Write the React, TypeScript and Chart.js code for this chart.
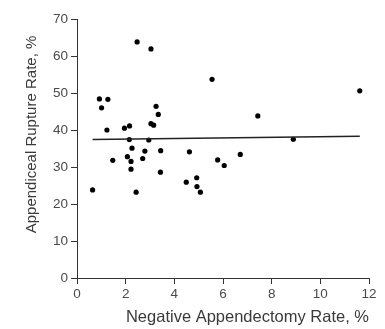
import React, { useEffect, useRef } from "react";
import { Chart, registerables } from "chart.js";

Chart.register(...registerables);

const negativeRate = [
  0.64, 0.92, 1.01, 1.23, 1.27, 1.47, 1.95, 2.07, 2.15, 2.16, 2.22, 2.22, 2.26,
  2.43, 2.47, 2.7, 2.79, 2.95, 3.04, 3.04, 3.15, 3.25, 3.34, 3.43, 3.44, 4.49,
  4.62, 4.92, 4.93, 5.07, 5.55, 5.78, 6.05, 6.71, 7.43, 8.89, 11.62,
];
const ruptureRate = [
  23.8, 48.4, 46.0, 40.0, 48.3, 31.8, 40.5, 32.8, 37.4, 41.1, 31.5, 29.4, 35.1,
  23.2, 63.8, 32.3, 34.3, 37.3, 61.9, 41.7, 41.3, 46.4, 44.2, 28.6, 34.4, 25.9,
  34.1, 27.1, 24.7, 23.2, 53.7, 31.9, 30.4, 33.4, 43.8, 37.5, 50.6,
];
const fitX = [0.64, 11.62];
const fitY = [37.4, 38.3];

const xTitle = "Negative Appendectomy Rate, %";
const yTitle = "Appendiceal Rupture Rate, %";

const FONT = "'Liberation Sans', Arial, sans-serif";

const yTitlePlugin = {
  id: "yTitlePlugin",
  afterDraw(chart: any) {
    const ctx = chart.ctx;
    const area = chart.chartArea;
    ctx.save();
    ctx.translate(32, (area.top + area.bottom) / 2 - 14);
    ctx.rotate(-Math.PI / 2);
    ctx.font = `15px ${FONT}`;
    ctx.fillStyle = "#3a3a3a";
    ctx.textAlign = "center";
    ctx.textBaseline = "middle";
    ctx.fillText(yTitle, 0, 0);
    ctx.restore();
  },
};

export default function App() {
  const ref = useRef<HTMLCanvasElement | null>(null);

  useEffect(() => {
    if (!ref.current) return;
    const points = negativeRate.map((x, i) => ({ x, y: ruptureRate[i] }));
    const fit = fitX.map((x, i) => ({ x, y: fitY[i] }));
    const tickFont = { family: FONT, size: 13.5 };
    const chart = new Chart(ref.current, {
      type: "scatter",
      data: {
        datasets: [
          {
            type: "line",
            data: fit,
            borderColor: "#222",
            borderWidth: 1.5,
            pointRadius: 0,
            fill: false,
          } as any,
          {
            type: "scatter",
            data: points,
            backgroundColor: "#000",
            borderWidth: 0,
            pointRadius: 2.6,
          },
        ],
      },
      plugins: [yTitlePlugin],
      options: {
        responsive: false,
        animation: false,
        layout: { padding: { top: 19, right: 16, left: 0, bottom: 0 } },
        plugins: { legend: { display: false }, tooltip: { enabled: false } },
        scales: {
          x: {
            type: "linear",
            min: 0,
            max: 12,
            afterFit: (s: any) => {
              s.height = 51;
            },
            ticks: { stepSize: 2, color: "#4a4a4a", font: tickFont, padding: 2 },
            grid: {
              display: true,
              drawOnChartArea: false,
              drawTicks: true,
              tickLength: 6,
              color: "#333",
            },
            border: { display: true, color: "#333", width: 1 },
            title: {
              display: true,
              text: xTitle,
              align: "end",
              color: "#3a3a3a",
              font: { family: FONT, size: 16.5 },
              padding: { top: 0, bottom: 2 },
            },
          },
          y: {
            type: "linear",
            min: 0,
            max: 70,
            afterFit: (s: any) => {
              s.width = 77;
            },
            ticks: { stepSize: 10, color: "#4a4a4a", font: tickFont, padding: 3 },
            grid: {
              display: true,
              drawOnChartArea: false,
              drawTicks: true,
              tickLength: 6,
              color: "#333",
            },
            border: { display: true, color: "#333", width: 1 },
            title: { display: false },
          },
        },
      },
    });
    return () => chart.destroy();
  }, []);

  return (
    <div style={{ position: "fixed", left: 0, top: 0, width: 385, height: 329, background: "#fff" }}>
      <canvas ref={ref} width={385} height={329} />
    </div>
  );
}
